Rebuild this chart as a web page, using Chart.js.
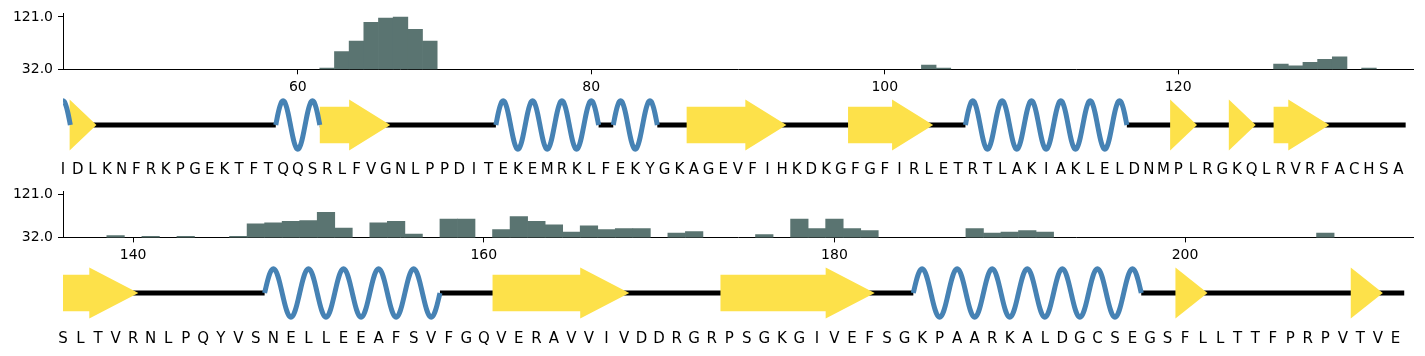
<!DOCTYPE html>
<html>
<head>
<meta charset="utf-8">
<script src="https://cdn.jsdelivr.net/npm/chart.js@4.4.0/dist/chart.umd.min.js"></script>
<style>
  html, body { margin: 0; padding: 0; background: #ffffff; }
  #wrap { position: relative; width: 1425px; height: 356px; overflow: hidden; background: #fff; }
  canvas { position: absolute; left: 0; }
</style>
</head>
<body>
<div id="wrap">
  <canvas id="bars1" width="1425" height="95" style="top:0px"></canvas>
  <canvas id="track1" width="1425" height="83" style="top:95px"></canvas>
  <canvas id="bars2" width="1425" height="90" style="top:178px"></canvas>
  <canvas id="track2" width="1425" height="93" style="top:262.7px"></canvas>
</div>
<script>
// ---------------- DATA ----------------
const row1Start = 44;
const row1Sequence = "IDLKNFRKPGEKTFTQQSRLFVGNLPPDITEKEMRKLFEKYGKAGEVFIHKDKGFGFIRLETRTLAKIAKLELDNMPLRGKQLRVRFACHSA";
const row1Structure = "HB-------------HHHEE----------HHHHHHH-HHH--EEEE-------EEE-----HHHHHHHHHHH---B---B--E--------";
const row1Residues = [62, 63, 64, 65, 66, 67, 68, 69, 103, 104, 127, 128, 129, 130, 131, 133];
const row1Values   = [34, 62, 80, 112, 119, 121, 100, 80, 39, 34, 41, 38, 44, 49, 53, 34];
const row1Ticks = [60, 80, 100, 120];

const row2Start = 136;
const row2Sequence = "SLTVRNLPQYVSNELLEEAFSVFGQVERAVVIVDDRGRPSGKGIVEFSGKPAARKALDGCSEGSFLLTTFPRPVTVE";
const row2Structure = "EE----------HHHHHHHHHH---EEEEE--------EEEEEE-----HHHHHHHHHHHHH--B---------B--";
const row2Residues = [139, 141, 143, 146, 147, 148, 149, 150, 151, 152, 154, 155, 156, 158, 159,
                      161, 162, 163, 164, 165, 166, 167, 168, 169, 171, 172, 176, 178, 179, 180,
                      181, 182, 188, 189, 190, 191, 192, 208];
const row2Values   = [36, 34, 34, 34, 60, 62, 65, 67, 84, 51, 62, 65, 39, 70, 70,
                      48, 75, 65, 58, 43, 56, 48, 50, 50, 41, 44, 38, 70, 50, 70,
                      50, 46, 50, 41, 43, 46, 43, 41];
const row2Ticks = [140, 160, 180, 200];

const valueTicks = [32, 121];

// ---------------- STYLE ----------------
const BAR_COLOR = 'rgb(90,116,113)';
const HELIX_COLOR = '#4682B4';
const STRAND_COLOR = '#FDE14A';
const COIL_COLOR = '#000000';
const HELIX_AMP = 24.2;   // track y units (1 unit = 1px)
const HEAD_HALF = 25.6;
const BODY_HALF = 18.2;
const HEAD_LEN = 2.8;     // residues
const BRIDGE_BACK = 0.55, BRIDGE_FWD = 1.28;

Chart.defaults.font.family = "'DejaVu Sans', sans-serif";
Chart.defaults.color = '#000';

function runsOf(str, start, pred) {
  const out = [];
  let i = 0;
  while (i < str.length) {
    if (pred(str[i])) {
      let j = i;
      while (j + 1 < str.length && pred(str[j + 1])) j++;
      out.push({ from: start + i, to: start + j });
      i = j + 1;
    } else i++;
  }
  return out;
}

function makeBars(id, start, n, residues, values, ticks, areaTop, xAxisH) {
  const data = residues.map((r, i) => ({ x: r, y: values[i] }));
  const axisGrid = { display: true, drawOnChartArea: false, drawTicks: true, tickLength: 5,
                     color: '#000', lineWidth: 1, offset: false };
  return new Chart(document.getElementById(id), {
    type: 'bar',
    data: { datasets: [{ data, backgroundColor: BAR_COLOR, borderWidth: 0,
                         barPercentage: 1, categoryPercentage: 1 }] },
    options: {
      responsive: false, animation: false, devicePixelRatio: 1,
      layout: { padding: { top: areaTop, right: 12, left: 0, bottom: 0 } },
      plugins: { legend: { display: false }, tooltip: { enabled: false } },
      scales: {
        x: {
          type: 'linear', min: start, max: start + n, offset: false,
          afterBuildTicks: s => { s.ticks = ticks.map(v => ({ value: v })); },
          afterFit: s => { s.height = xAxisH; },
          grid: axisGrid,
          border: { display: true, color: '#000', width: 1 },
          ticks: { font: { size: 14 }, color: '#000', padding: 5, maxRotation: 0, minRotation: 0,
                   autoSkip: false, callback: v => String(v) }
        },
        y: {
          type: 'linear', min: valueTicks[0], max: valueTicks[1] * 1.05, beginAtZero: false,
          afterBuildTicks: s => { s.ticks = valueTicks.map(v => ({ value: v })); },
          afterFit: s => { s.width = 63; },
          grid: axisGrid,
          border: { display: true, color: '#000', width: 1 },
          ticks: { font: { size: 14 }, color: '#000', padding: 5, callback: v => Number(v).toFixed(1) }
        }
      }
    }
  });
}

function makeTrack(id, start, seq, ss, xAxisH, letterPad) {
  const n = seq.length;
  const datasets = [];
  // helices (top) - sinusoidal glyph spanning each helix run
  runsOf(ss, start, c => c === 'H').forEach(r => {
    const x0 = r.from - 0.5, x1 = r.to + 0.5;
    const steps = Math.round((x1 - x0) * 12);
    const pts = [];
    for (let k = 0; k <= steps; k++) {
      const x = x0 + (x1 - x0) * k / steps;
      pts.push({ x, y: HELIX_AMP * Math.sin(Math.PI * (x - x0)) });
    }
    datasets.push({ data: pts, showLine: true, borderColor: HELIX_COLOR, borderWidth: 5,
                    borderCapStyle: 'butt', borderJoinStyle: 'round', pointRadius: 0, fill: false,
                    tension: 0.3, clip: 0 });
  });
  // strands
  runsOf(ss, start, c => c === 'E').forEach(r => {
    const x0 = r.from - 0.5, xh = r.to + 0.5, tip = xh + HEAD_LEN;
    const pts = [
      { x: x0, y: BODY_HALF }, { x: xh, y: BODY_HALF }, { x: xh, y: HEAD_HALF }, { x: tip, y: 0 },
      { x: xh, y: -HEAD_HALF }, { x: xh, y: -BODY_HALF }, { x: x0, y: -BODY_HALF }, { x: x0, y: BODY_HALF }
    ];
    datasets.push({ data: pts, showLine: true, borderColor: 'rgba(0,0,0,0)', borderWidth: 0,
                    backgroundColor: STRAND_COLOR, fill: 'shape', pointRadius: 0, tension: 0, clip: 0 });
  });
  // bridges
  runsOf(ss, start, c => c === 'B').forEach(r => {
    const x0 = r.from - BRIDGE_BACK, tip = r.to + BRIDGE_FWD;
    const pts = [{ x: x0, y: HEAD_HALF }, { x: tip, y: 0 }, { x: x0, y: -HEAD_HALF }, { x: x0, y: HEAD_HALF }];
    datasets.push({ data: pts, showLine: true, borderColor: 'rgba(0,0,0,0)', borderWidth: 0,
                    backgroundColor: STRAND_COLOR, fill: 'shape', pointRadius: 0, tension: 0, clip: 0 });
  });
  // coil (bottom)
  runsOf(ss, start, c => c !== 'H').forEach(r => {
    datasets.push({ data: [{ x: r.from - 0.5, y: 0 }, { x: r.to + 0.5, y: 0 }], showLine: true,
                    borderColor: COIL_COLOR, borderWidth: 5, borderCapStyle: 'butt',
                    pointRadius: 0, fill: false, clip: 0 });
  });

  return new Chart(document.getElementById(id), {
    type: 'scatter',
    data: { datasets },
    options: {
      responsive: false, animation: false, devicePixelRatio: 1,
      layout: { padding: { top: 0, right: 12, left: 63, bottom: 0 } },
      plugins: { legend: { display: false }, tooltip: { enabled: false } },
      scales: {
        x: {
          type: 'linear', min: start, max: start + n, offset: false,
          afterBuildTicks: s => { s.ticks = seq.split('').map((c, i) => ({ value: start + i })); },
          afterFit: s => { s.height = xAxisH; },
          grid: { display: false, drawTicks: false },
          border: { display: false },
          ticks: { font: { size: 15 }, color: '#000', padding: letterPad, autoSkip: false,
                   maxRotation: 0, minRotation: 0, callback: (v, i) => seq[i] }
        },
        y: { type: 'linear', min: -30, max: 30, display: false }
      }
    }
  });
}

makeBars('bars1', row1Start, row1Sequence.length, row1Residues, row1Values, row1Ticks, 13.2, 25.7);
makeTrack('track1', row1Start, row1Sequence, row1Structure, 23, 6);
makeBars('bars2', row2Start, row2Sequence.length, row2Residues, row2Values, row2Ticks, 3.7, 30.6);
makeTrack('track2', row2Start, row2Sequence, row2Structure, 33, 7);
</script>
</body>
</html>
